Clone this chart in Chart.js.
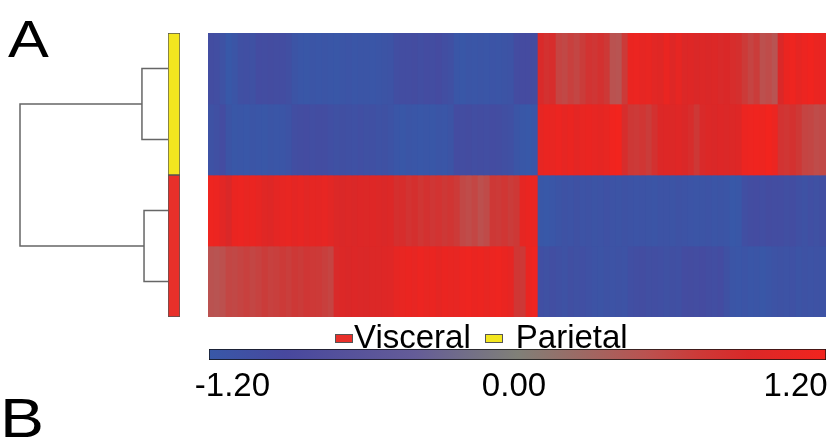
<!DOCTYPE html>
<html lang="en">
  <head>
    <meta charset="utf-8" />
    <title>Visceral vs Parietal heatmap</title>
    <style>
      * {
        margin: 0;
        padding: 0;
        font-family: "Liberation Sans", Arial, sans-serif;
      }
      body {
        width: 828px;
        height: 442px;
        background: white;
        position: relative;
        overflow: hidden;
      }
      .box {
        position: absolute;
      }
      .panel {
        position: absolute;
        line-height: 1;
        color: #000;
        transform-origin: left top;
        transform: scaleX(1.2);
      }
      #legend {
        left: 335px;
        top: 320px;
        display: flex;
        align-items: center;
        font-size: 33px;
        line-height: 33px;
        color: #000;
      }
      #legend .swatch {
        width: 16px;
        height: 7px;
        border: 1px solid #555;
        margin-top: 4px;
        margin-right: 1px;
      }
    </style>
  </head>
  <body>
    <div class="panel" style="left: 8px; top: 14px; font-size: 51px">A</div>
    <div class="panel" style="left: 0px; top: 391px; font-size: 55px">B</div>

    <div class="box" style="left: 0; top: 0; width: 182px; height: 330px">
      <canvas id="dendro"></canvas>
    </div>
    <div class="box" style="left: 160px; top: 25px; width: 28px; height: 300px">
      <canvas id="sidebar"></canvas>
    </div>
    <div class="box" style="left: 208px; top: 33px; width: 618px; height: 284px">
      <canvas id="heat"></canvas>
    </div>
    <div class="box" style="left: 170px; top: 330px; width: 658px; height: 80px">
      <canvas id="cbar"></canvas>
    </div>
    <div class="box" id="legend"></div>

    <script src="https://cdn.jsdelivr.net/npm/chart.js"></script>
    <script>
      // rows top to bottom, and the sample group of each row
      const rowGroups = ["Parietal", "Parietal", "Visceral", "Visceral"];
      const legendOrder = ["Visceral", "Parietal"];

      // dendrogram merges: [child a, child b, height] (leaves 0-3, new nodes 4, 5, ...)
      const merges = [
        [0, 1, 0.176],
        [2, 3, 0.162],
        [4, 5, 1.0],
      ];

      // expression values per column, one array per row
      const row1 = [
        -1.0, -1.02, -1.08, -1.2, -1.15, -1.05, -1.04, -1.06, -0.98, -1.0,
        -0.97, -1.0, -0.99, -1.03, -1.12, -1.16, -1.18, -1.15, -1.17, -1.14,
        -1.16, -1.18, -1.15, -1.13, -1.16, -1.14, -1.15, -1.17, -1.14, -1.12,
        -1.1, -1.02, -0.99, -1.0, -0.97, -1.01, -0.98, -1.0, -0.96, -1.02,
        -1.05, -1.16, -1.18, -1.15, -1.17, -1.14, -1.16, -1.13, -1.15, -1.12,
        -1.1, -0.98, -0.96, -0.95, -0.97,
        0.88, 0.8, 0.85, 0.62, 0.58,
        0.65, 0.6, 0.68, 0.78, 0.74, 0.8, 0.72, 0.5, 0.48, 0.7,
        1.1, 1.12, 1.05, 1.08, 1.0, 0.98, 1.1, 0.95, 1.05, 0.92,
        0.95, 0.9, 0.93, 0.9, 0.92, 0.88, 0.9, 0.85, 0.82, 0.7,
        0.62, 0.68, 0.52, 0.55, 0.48, 0.9, 1.1, 1.15, 1.05, 1.12,
        1.18, 1.1, 1.08,
      ];
      const row2 = [
        -1.08, -1.05, -0.98, -1.12, -1.18, -1.16, -1.19, -1.15, -1.17, -1.18,
        -1.14, -1.16, -1.15, -1.1, -1.02, -1.0, -0.98, -1.01, -0.99, -1.0,
        -1.04, -1.06, -1.03, -1.05, -1.07, -1.04, -1.06, -1.05, -1.08, -1.06,
        -1.1, -1.16, -1.18, -1.15, -1.17, -1.19, -1.16, -1.18, -1.15, -1.17,
        -1.12, -0.98, -1.0, -0.97, -1.02, -0.99, -1.01, -0.98, -1.0, -1.03,
        -1.05, -1.15, -1.18, -1.2, -1.17,
        1.05, 1.1, 1.08, 1.12, 1.05,
        1.1, 1.02, 1.08, 1.1, 1.06, 1.04, 1.08, 1.18, 1.2, 0.85,
        0.72, 0.7, 0.75, 0.68, 0.8, 0.92, 0.95, 0.93, 0.96, 0.9,
        0.85, 0.72, 0.88, 0.92, 0.9, 0.94, 0.91, 0.93, 0.95, 1.12,
        1.15, 1.18, 1.14, 1.2, 1.12, 0.78, 0.75, 0.8, 0.72, 0.62,
        0.6, 0.55, 0.58,
      ];
      const row3 = [
        1.15, 1.12, 1.0, 0.9, 1.1, 1.12, 1.08, 1.1, 1.05, 0.98,
        0.95, 1.02, 1.05, 1.08, 1.02, 1.06, 1.0, 1.04, 1.02, 1.06,
        1.0, 0.92, 0.9, 0.93, 0.9, 0.94, 0.92, 0.95, 0.93, 0.9,
        0.92, 0.82, 0.85, 0.78, 0.82, 0.75, 0.8, 0.74, 0.78, 0.72,
        0.76, 0.7, 0.58, 0.55, 0.6, 0.52, 0.56, 0.72, 0.7, 0.75,
        0.68, 0.72, 1.05, 1.1, 1.08,
        -1.18, -1.2, -1.17, -1.12, -1.08,
        -1.1, -1.06, -1.1, -1.08, -1.12, -1.1, -1.07, -1.1, -1.12, -1.09,
        -1.11, -1.13, -1.1, -1.12, -1.14, -1.11, -1.1, -1.12, -1.09, -1.1,
        -1.13, -1.15, -1.12, -1.1, -1.14, -1.12, -1.15, -1.2, -1.18, -1.04,
        -1.0, -0.98, -1.02, -0.97, -1.0, -0.99, -1.03, -1.0, -1.05, -1.08,
        -1.04, -1.06, -1.02,
      ];
      const row4 = [
        0.5, 0.48, 0.52, 0.6, 0.58, 0.62, 0.65, 0.6, 0.63, 0.68,
        0.64, 0.66, 0.7, 0.67, 0.72, 0.69, 0.74, 0.71, 0.7, 0.66,
        0.62, 0.88, 0.92, 0.9, 0.94, 0.91, 0.9, 0.93, 0.92, 0.95,
        0.96, 1.05, 1.08, 1.1, 1.06, 1.12, 1.08, 1.1, 1.04, 1.1,
        1.08, 1.06, 1.12, 1.15, 1.1, 1.13, 1.08, 1.12, 1.15, 1.1,
        1.05, 0.75, 0.72, 1.1, 1.15,
        -1.04, -1.06, -1.02, -1.05, -1.08,
        -1.03, -1.06, -1.04, -1.07, -1.1, -1.12, -1.09, -1.11, -1.08, -1.1,
        -1.04, -1.02, -1.0, -1.03, -1.01, -1.04, -1.06, -1.03, -1.05, -0.98,
        -0.97, -1.0, -0.96, -0.99, -1.02, -0.98, -1.06, -1.14, -1.16, -1.13,
        -1.17, -1.15, -1.18, -1.14, -1.1, -1.08, -1.1, -1.07, -1.12, -1.09,
        -1.1, -1.08, -1.11,
      ];
      const rows = [row1, row2, row3, row4];

      // colour scale
      const cbarRange = [-1.3, 1.33];
      const cbarTicks = [-1.2, 0, 1.2];

      // styles
      const groupColors = { Visceral: "#e8302a", Parietal: "#f3e61f" };
      const stopValues = [-1.2, -0.9, -0.4, 0, 0.5, 0.7, 0.9, 1.2];
      const stopColors = [
        [56, 88, 168],
        [72, 72, 158],
        [100, 92, 152],
        [128, 128, 120],
        [186, 82, 80],
        [204, 58, 56],
        [218, 40, 40],
        [242, 36, 30],
      ];
      const lineColor = "#666";
      Chart.defaults.font.family = "'Liberation Sans', Arial, sans-serif";
      Chart.defaults.animation = false;
      Chart.defaults.events = [];
      Chart.defaults.plugins.legend.display = false;
      Chart.defaults.plugins.tooltip.enabled = false;

      function rgb(c) {
        return "rgb(" + c.map(Math.round).join(",") + ")";
      }
      function colorFor(v) {
        if (v <= stopValues[0]) return rgb(stopColors[0]);
        for (let i = 1; i < stopValues.length; i++) {
          if (v <= stopValues[i]) {
            const t = (v - stopValues[i - 1]) / (stopValues[i] - stopValues[i - 1]);
            const a = stopColors[i - 1];
            const b = stopColors[i];
            return rgb(a.map((c, k) => c + (b[k] - c) * t));
          }
        }
        return rgb(stopColors[stopColors.length - 1]);
      }

      // ---- dendrogram ----
      const nodes = rowGroups.map((g, i) => ({ y: i + 0.5, h: 0 }));
      const links = [];
      merges.forEach(([a, b, h]) => {
        const na = nodes[a];
        const nb = nodes[b];
        links.push([
          { x: na.h, y: na.y },
          { x: h, y: na.y },
          { x: h, y: nb.y },
          { x: nb.h, y: nb.y },
        ]);
        nodes.push({ y: (na.y + nb.y) / 2, h: h });
      });

      new Chart(document.getElementById("dendro"), {
        type: "scatter",
        data: {
          datasets: links.map((pts) => ({
            data: pts,
            showLine: true,
            pointRadius: 0,
            borderColor: lineColor,
            borderWidth: 1.5,
            clip: false,
          })),
        },
        options: {
          responsive: true,
          maintainAspectRatio: false,
          layout: { padding: { left: 20, right: 14, top: 33, bottom: 13 } },
          scales: {
            x: { display: false, reverse: true, min: 0, max: 1 },
            y: { display: false, reverse: true, min: 0, max: rowGroups.length },
          },
        },
      });

      // ---- group colour sidebar ----
      const blocks = [];
      rowGroups.forEach((g) => {
        const last = blocks[blocks.length - 1];
        if (last && last.group === g) last.size += 1;
        else blocks.push({ group: g, size: 1 });
      });

      new Chart(document.getElementById("sidebar"), {
        type: "bar",
        data: {
          labels: ["group"],
          datasets: blocks.map((b) => ({
            label: b.group,
            data: [b.size],
            backgroundColor: groupColors[b.group],
            borderColor: "#555",
            borderWidth: 1,
            borderSkipped: false,
            barPercentage: 1,
            categoryPercentage: 1,
          })),
        },
        options: {
          responsive: true,
          maintainAspectRatio: false,
          layout: { padding: 8 },
          scales: {
            x: { display: false, stacked: true },
            y: { display: false, stacked: true, reverse: true, min: 0, max: rowGroups.length },
          },
        },
      });

      // ---- heatmap ----
      const columns = row1.map((v, i) => i + 1);

      new Chart(document.getElementById("heat"), {
        type: "bar",
        data: {
          labels: columns,
          datasets: rows.map((vals, r) => ({
            label: "row " + (r + 1),
            data: vals.map(() => 1),
            backgroundColor: vals.map(colorFor),
            borderWidth: 0,
            barPercentage: 1,
            categoryPercentage: 1,
          })),
        },
        options: {
          responsive: true,
          maintainAspectRatio: false,
          layout: { padding: 0 },
          scales: {
            x: { display: false, stacked: true },
            y: { display: false, stacked: true, reverse: true, min: 0, max: rows.length },
          },
        },
      });

      // ---- colour key ----
      new Chart(document.getElementById("cbar"), {
        type: "bar",
        data: {
          labels: ["key"],
          datasets: [
            {
              data: [cbarRange],
              backgroundColor: (ctx) => {
                const area = ctx.chart.chartArea;
                if (!area) return "#888";
                const g = ctx.chart.ctx.createLinearGradient(area.left, 0, area.right, 0);
                const lo = stopValues[0];
                const hi = stopValues[stopValues.length - 1];
                stopValues.forEach((v, i) => {
                  g.addColorStop((v - lo) / (hi - lo), rgb(stopColors[i]));
                });
                return g;
              },
              borderColor: "#111",
              borderWidth: 1,
              borderSkipped: false,
              barPercentage: 1,
              categoryPercentage: 1,
            },
          ],
        },
        options: {
          indexAxis: "y",
          responsive: true,
          maintainAspectRatio: false,
          layout: { padding: { left: 39, right: 2, top: 19, bottom: 0 } },
          scales: {
            x: {
              min: cbarRange[0],
              max: cbarRange[1],
              afterBuildTicks: (axis) => {
                axis.ticks = cbarTicks.map((v) => ({ value: v }));
              },
              afterFit: (axis) => {
                axis.height = 50;
              },
              grid: { display: false, drawTicks: true, tickLength: 7 },
              border: { display: false },
              ticks: {
                color: "#000",
                padding: 0,
                maxRotation: 0,
                autoSkip: false,
                font: { size: 33 },
                callback: (v) => Number(v).toFixed(2),
              },
            },
            y: { display: false },
          },
        },
      });

      // ---- legend ----
      const legend = document.getElementById("legend");
      legendOrder.forEach((g, i) => {
        const sw = document.createElement("span");
        sw.className = "swatch";
        sw.style.background = groupColors[g];
        if (i > 0) sw.style.marginLeft = "14px";
        if (i > 0) sw.style.marginRight = "13px";
        const tx = document.createElement("span");
        tx.textContent = g;
        legend.appendChild(sw);
        legend.appendChild(tx);
      });
    </script>
  </body>
</html>
